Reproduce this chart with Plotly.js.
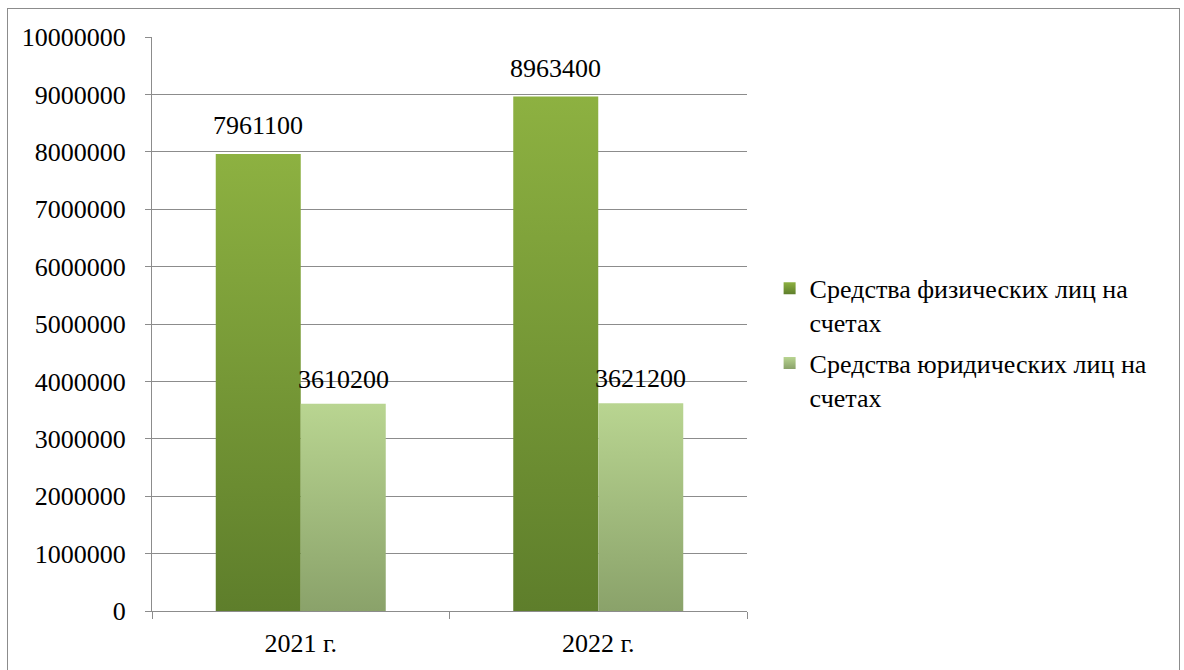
<!DOCTYPE html>
<html>
<head>
<meta charset="utf-8">
<script src="https://cdn.plot.ly/plotly-3.0.1.min.js"></script>
<style>
  html, body { margin: 0; padding: 0; background: #fff; }
  #wrap { position: relative; width: 1184px; height: 670px; overflow: hidden; }
  #chart { width: 1184px; height: 670px; }
  #frame { position: absolute; left: 7px; top: 8px; width: 1173px; height: 700px;
           border: 1px solid #8c8c8c; pointer-events: none; box-sizing: border-box; }
</style>
</head>
<body>
<div id="wrap">
  <div id="chart"></div>
  <div id="frame"></div>
</div>
<script>
const categories = ['2021 г.', '2022 г.'];
const seriesNames = ['Средства физических лиц на<br>счетах', 'Средства юридических лиц на<br>счетах'];
const individuals = [7961100, 8963400];
const legalEntities = [3610200, 3621200];
const yTicks = [0, 1000000, 2000000, 3000000, 4000000, 5000000, 6000000, 7000000, 8000000, 9000000, 10000000];

const SERIF = 'Liberation Serif';

const traces = [
  { type: 'bar', name: seriesNames[0], x: categories, y: individuals, legendgroup: 'g1',
    marker: { color: '#77993a' } },
  { type: 'bar', name: seriesNames[1], x: categories, y: legalEntities, legendgroup: 'g2',
    marker: { color: '#a6c07e' } }
];

const annotations = [];
[individuals, legalEntities].forEach(function (vals, s) {
  vals.forEach(function (v, i) {
    annotations.push({ x: categories[i], y: v, xref: 'x', yref: 'y', text: String(v),
      showarrow: false, yanchor: 'bottom', xanchor: 'center',
      xshift: s === 0 ? -42.5 : 42.5, yshift: s === 0 ? 12 : 8,
      font: { family: SERIF, size: 26, color: '#000' } });
  });
});

const layout = {
  width: 1184, height: 670,
  margin: { l: 152, r: 437, t: 37, b: 59 },
  paper_bgcolor: '#fff', plot_bgcolor: '#fff',
  font: { family: SERIF, size: 26, color: '#000' },
  barmode: 'group', bargap: 0.4286, bargroupgap: 0,
  showlegend: true,
  annotations: annotations,
  legend: { x: 1.038, xanchor: 'left', y: 0.603, yanchor: 'top', valign: 'top',
            traceorder: 'grouped', tracegroupgap: 4,
            font: { family: SERIF, size: 26, color: '#000' }, itemwidth: 30,
            bgcolor: 'rgba(0,0,0,0)' },
  xaxis: { type: 'category', showline: true, linecolor: '#8c8c8c', linewidth: 1,
           ticks: 'outside', tickson: 'boundaries', ticklen: 7, tickcolor: '#8c8c8c',
           ticklabelstandoff: 9,
           showgrid: false, zeroline: false, tickfont: { family: SERIF, size: 26, color: '#000' } },
  yaxis: { range: [0, 10000000], tickvals: yTicks, ticktext: yTicks.map(String),
           showline: true, linecolor: '#8c8c8c', linewidth: 1,
           ticks: 'outside', ticklen: 6, tickcolor: '#8c8c8c', ticklabelstandoff: 14,
           showgrid: true, gridcolor: '#8c8c8c', gridwidth: 1, zeroline: false,
           tickfont: { family: SERIF, size: 26, color: '#000' } }
};

const grads = [
  { id: 'gDark', top: '#8db141', bottom: '#5e7e2b' },
  { id: 'gLight', top: '#b9d591', bottom: '#8aa26a' }
];

Plotly.newPlot('chart', traces, layout, { displayModeBar: false, staticPlot: true }).then(function (gd) {
  const svg = gd.querySelector('svg.main-svg');
  let defs = svg.querySelector('defs');
  const ns = 'http://www.w3.org/2000/svg';
  grads.forEach(function (g) {
    const lg = document.createElementNS(ns, 'linearGradient');
    lg.setAttribute('id', g.id);
    lg.setAttribute('x1', '0'); lg.setAttribute('y1', '0');
    lg.setAttribute('x2', '0'); lg.setAttribute('y2', '1');
    const s1 = document.createElementNS(ns, 'stop');
    s1.setAttribute('offset', '0'); s1.setAttribute('stop-color', g.top);
    const s2 = document.createElementNS(ns, 'stop');
    s2.setAttribute('offset', '1'); s2.setAttribute('stop-color', g.bottom);
    lg.appendChild(s1); lg.appendChild(s2);
    defs.appendChild(lg);
  });
  const barTraces = gd.querySelectorAll('.barlayer .trace');
  barTraces.forEach(function (t, i) {
    t.querySelectorAll('.point path').forEach(function (p) {
      p.style.fill = 'url(#' + grads[i].id + ')';
    });
  });
  const legTraces = gd.querySelectorAll('.legend .traces');
  legTraces.forEach(function (t, i) {
    t.querySelectorAll('.legendpoints path').forEach(function (p) {
      p.style.fill = 'url(#' + grads[i].id + ')';
    });
  });
});
</script>
</body>
</html>
